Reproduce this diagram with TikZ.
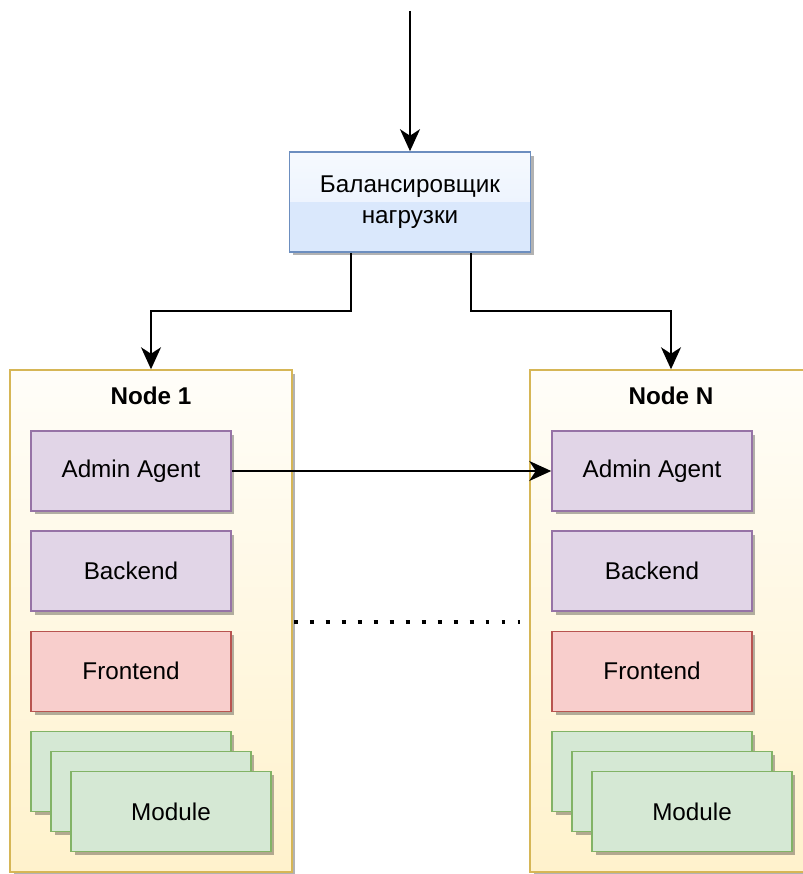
\documentclass[tikz,border=0pt]{standalone}
\usepackage{fontspec}
\setmainfont{Liberation Sans}
\definecolor{lbfill}{HTML}{DAE8FC}
\definecolor{lbdraw}{HTML}{6C8EBF}
\definecolor{hostfill}{HTML}{FFF2CC}
\definecolor{hostdraw}{HTML}{D6B656}
\definecolor{svcfill}{HTML}{E1D5E7}
\definecolor{svcdraw}{HTML}{9673A6}
\definecolor{webfill}{HTML}{F8CECC}
\definecolor{webdraw}{HTML}{B85450}
\definecolor{modfill}{HTML}{D5E8D4}
\definecolor{moddraw}{HTML}{82B366}
\usepackage{tikz}
\usetikzlibrary{arrows.meta,positioning,shadows,calc}

\begin{document}
\begin{tikzpicture}[
  x=0.02cm, y=-0.02cm,
  node distance=0.372cm,
  shade/.style={drop shadow={shadow xshift=0.07cm, shadow yshift=-0.07cm, opacity=0.3, fill=black}},
  block/.style={rectangle, draw, line width=0.9pt, minimum width=4cm, minimum height=1.6cm, font=\fontsize{13.8}{17.5}\selectfont, align=center, shade},
  lbblock/.style={block, fill=lbfill, draw=lbdraw, minimum width=4.82cm, minimum height=2cm,
    path picture={\fill[top color=lbfill!25!white, bottom color=lbfill!70!white] (path picture bounding box.north west) rectangle (path picture bounding box.east);}},
  svcblock/.style={block, fill=svcfill, draw=svcdraw},
  webblock/.style={block, fill=webfill, draw=webdraw},
  modblock/.style={block, fill=modfill, draw=moddraw},
  hostblock/.style={rectangle, draw=hostdraw, line width=0.9pt, top color=hostfill!12!white, bottom color=hostfill, minimum width=5.64cm, minimum height=10.04cm, shade},
  title/.style={font=\bfseries\fontsize{13.8}{17.5}\selectfont},
  arrow/.style={-{Stealth[length=0.44cm, width=0.4cm, inset=0.13cm]}, line width=1pt},
  dotline/.style={line width=2.2pt, dash pattern=on 2.2pt off 6.9pt},
]
\useasboundingbox (0,0) rectangle (803,874);

% Load balancer
\node[lbblock] (lb) at (410,202) {Балансировщик\\нагрузки};
\coordinate (entry) at (410,11);

% Nodes
\node[hostblock] (node1) at (151,621) {};
\node[title] at ($(node1.north)+(0,27)$) {Node 1};
\node[hostblock] (nodeN) at (671,621) {};
\node[title] at ($(nodeN.north)+(0,27)$) {Node N};

% Node 1 services
\node[svcblock] (admin1) at (131,471) {Admin Agent};
\node[svcblock, below=of admin1] (backend1) {Backend};
\node[webblock, below=of backend1] (frontend1) {Frontend};
\node[modblock, below=of frontend1] (mod1a) {};
\node[modblock] (mod1b) at ($(mod1a)+(20,20)$) {};
\node[modblock] (mod1c) at ($(mod1b)+(20,20)$) {Module};

% Node N services
\node[svcblock] (adminN) at (652,471) {Admin Agent};
\node[svcblock, below=of adminN] (backendN) {Backend};
\node[webblock, below=of backendN] (frontendN) {Frontend};
\node[modblock, below=of frontendN] (modNa) {};
\node[modblock] (modNb) at ($(modNa)+(20,20)$) {};
\node[modblock] (modNc) at ($(modNb)+(20,20)$) {Module};

% Arrows
\draw[arrow] (entry) -- (lb);
\draw[arrow] ($(lb.south)+(-59,0)$) -- ++(0,58) -| (node1.north);
\draw[arrow] ($(lb.south)+(61,0)$) -- ++(0,58) -| (nodeN.north);
\draw[arrow] (admin1) -- (adminN);

% more nodes in between
\coordinate (dotsL) at ($(node1.east)+(1,1)$);
\coordinate (dotsR) at ($(nodeN.west)+(-9,1)$);
\draw[dotline] (dotsL) -- (dotsR);

\end{tikzpicture}
\end{document}
